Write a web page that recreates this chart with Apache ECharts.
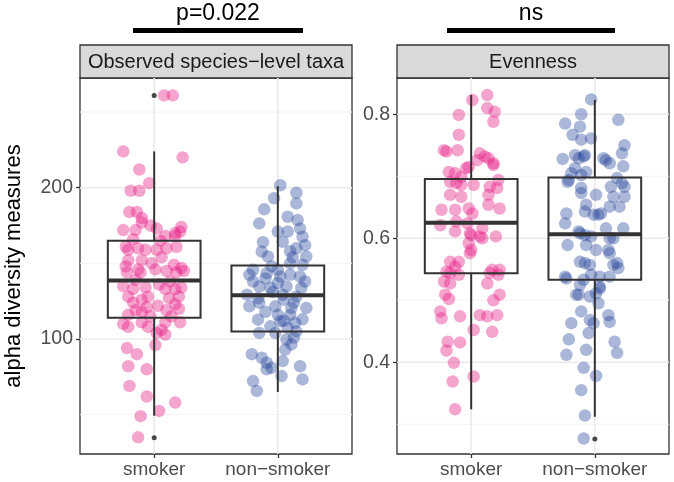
<!DOCTYPE html>
<html><head><meta charset="utf-8">
<script src="https://cdn.jsdelivr.net/npm/echarts@6/dist/echarts.min.js"></script>
<style>html,body{margin:0;padding:0;background:#fff}#c{width:674px;height:482px}</style>
</head><body><div id="c"></div>
<script>
// ---------------- data ----------------
const groups = ['smoker', 'non\u2212smoker'];
const panelTitles = ['Observed species\u2212level taxa', 'Evenness'];
const sigLabels = ['p=0.022', 'ns'];
const yTitle = 'alpha diversity measures';

const obsTicks = [100, 200];
const obsMinor = [50, 150, 250];
const evenTicks = [0.4, 0.6, 0.8];
const evenMinor = [0.3, 0.5, 0.7];

// box stats: [lower whisker, Q1, median, Q3, upper whisker]
const obsBoxSmoker = [49.3, 114, 138.7, 165, 224];
const obsBoxNon = [65, 105, 129, 148.6, 201];
const evenBoxSmoker = [0.324, 0.5435, 0.625, 0.6956, 0.831];
const evenBoxNon = [0.312, 0.533, 0.6065, 0.698, 0.823];

// outliers: [group position, value]
const obsOutliers = [[1, 261], [1, 34.7]];
const evenOutliers = [[2, 0.276]];

// jittered points: [offset from group centre, value]
const obsSmoker = [
[0.08,261],[0.15,261],[-0.25,224],[0.23,220],[-0.12,212],[-0.04,203],[-0.19,198],[-0.12,198],[-0.2,184],[-0.14,184],
[-0.1,180],[-0.1,177],[-0.03,175],[-0.25,172],[-0.15,172],[0.02,173],[0.22,174],[0.21,171],[0.17,168],[0.09,168],[0.17,170],
[-0.23,161],[-0.21,159],[-0.13,160],[-0.07,159],[0.02,159],[0.1,160],[0.18,161],
[-0.21,152],[-0.1,152],[0.06,154],[0.16,149],[0.22,147],[-0.23,148],[-0.13,146],[0.01,146],[0.1,145],
[-0.22,144],[-0.11,144],[0.18,144],[0.24,145],
[-0.25,135],[-0.17,133],[-0.07,134],[-0.05,128],[0.09,133],[0.17,133],[0.22,134],[0.2,128],[-0.21,128],[-0.1,126],
[0.03,122],[0.1,119],[-0.15,119],[0.17,123],[0.14,115],[-0.21,116],[-0.03,115],[-0.1,118],
[-0.25,110],[-0.1,111],[-0.05,108],[0.06,106],[0.09,111],[0.21,111],[0.02,104],[0.09,103],[-0.21,108],
[-0.22,94],[-0.14,90],[0.01,96],[-0.21,82],[-0.06,80],[-0.2,69],[-0.06,62],[0.17,58],[0.04,52.5],[-0.11,49],[-0.13,35],
[-0.17,166],[0.05,165],[-0.02,150],[0.13,138],[-0.15,139],[0.04,136],[-0.06,121],[0.2,120],[0.12,127],[-0.17,124]
];
const obsNon = [
[0.02,201.6],[0.15,196.6],[-0.03,193],[0.15,189.6],[-0.11,185.7],[0.08,180.8],[0.16,178.6],[-0.15,176.4],[0,171],[0.08,171],
[0.18,173],[0.2,167.6],[0.04,164.3],[0.22,162],[0.15,160],[-0.13,157.8],[-0.08,154.5],[0.23,154.5],[0.2,149],[0.1,150],
[-0.2,145.7],[0,145.7],[-0.23,142.4],[-0.09,143.5],[0.02,141.3],[0.1,142.4],[0.18,141.3],[0,137],[-0.15,134.7],[-0.06,133.7],
[0.07,134.7],[0.19,133.7],[-0.25,129.3],[-0.16,127],[0.04,129.3],[0.15,128],[-0.23,121.6],[-0.15,124],[-0.02,121.6],[0.11,120.5],
[0.23,120.5],[0,116],[0.1,116],[-0.16,112.8],[0.02,111.7],[0.14,110.7],[-0.06,108.4],[0.08,107.4],[0.15,105],[-0.15,104],
[0.07,99.7],[0.11,96.4],[0.06,93],[-0.21,90],[-0.13,87.6],[-0.09,84.3],[-0.05,81],[0.04,85.4],[0.18,82],[0.03,75.5],
[0.2,73.3],[-0.2,72.2],[-0.17,65.7],[-0.09,80],
[-0.2,138],[0.22,138],[-0.1,118],[0.2,113],[-0.05,148],[0.12,154],[0.05,126],[-0.02,104],
[-0.12,164],[0.1,158],[-0.04,131],[0.13,124],[-0.1,140],[0.05,112],[0.13,101]
];
const evenSmoker = [
[0.13,0.831],[0.01,0.823],[0.13,0.810],[0.19,0.804],[-0.1,0.799],[0.18,0.788],[-0.1,0.767],[-0.22,0.742],[-0.2,0.740],[-0.11,0.742],
[0.07,0.737],[0.11,0.732],[0.14,0.729],[0.05,0.726],[0.18,0.718],[-0.04,0.713],[-0.18,0.707],[-0.13,0.705],[-0.08,0.699],[0.22,0.694],
[-0.17,0.691],[-0.12,0.689],[-0.08,0.686],[0.02,0.686],[0.15,0.683],[0.21,0.681],[-0.17,0.670],[-0.08,0.667],[0.14,0.670],
[-0.24,0.646],[-0.13,0.646],[-0.02,0.648],[0.01,0.640],[0.14,0.654],[0.23,0.648],[-0.25,0.621],[-0.12,0.627],[-0.03,0.624],
[0.09,0.616],[-0.13,0.611],[-0.01,0.608],[0.2,0.603],[-0.02,0.592],[0.07,0.603],[-0.01,0.576],[-0.17,0.562],[-0.1,0.562],
[-0.13,0.554],[-0.2,0.546],[0.17,0.549],[0.23,0.549],[-0.17,0.544],[-0.1,0.541],[0.15,0.544],[0.22,0.541],[-0.22,0.530],
[-0.17,0.527],[0.13,0.527],[-0.21,0.509],[-0.18,0.502],[0.23,0.509],[0.18,0.500],[-0.25,0.482],[-0.24,0.471],[-0.09,0.474],
[0.07,0.476],[0.13,0.474],[0.21,0.476],[0.02,0.452],[0.17,0.449],[-0.19,0.433],[-0.09,0.432],[-0.2,0.419],[-0.14,0.399],
[-0.15,0.369],[0.02,0.377],[-0.13,0.324],
[0.18,0.721],[-0.02,0.715],[0,0.605],[0.09,0.600],[0,0.581]
];
const evenNon = [
[-0.03,0.824],[-0.11,0.800],[0.19,0.791],[-0.24,0.785],[-0.12,0.780],[-0.18,0.767],[-0.11,0.759],[-0.03,0.761],[0.24,0.750],[0.22,0.737],
[-0.08,0.734],[-0.13,0.729],[-0.26,0.728],[0.07,0.729],[0.09,0.726],[0.12,0.721],[0.23,0.716],[-0.16,0.713],[-0.19,0.705],[-0.11,0.702],
[-0.07,0.707],[-0.21,0.694],[0.18,0.697],[0.22,0.689],[0.24,0.683],[0.13,0.683],[-0.11,0.681],[-0.11,0.673],[0.01,0.670],[0.24,0.667],
[0.15,0.667],[-0.07,0.654],[-0.08,0.643],[0.12,0.651],[0.2,0.651],[0.03,0.638],[-0.01,0.638],[-0.23,0.640],[-0.24,0.624],[0.09,0.616],
[0.23,0.616],[-0.12,0.608],[-0.03,0.603],[0.12,0.600],[-0.22,0.589],[-0.07,0.589],[0.01,0.581],[0.11,0.581],[0.12,0.576],[-0.12,0.562],
[-0.08,0.560],[-0.04,0.557],[0.18,0.560],[-0.24,0.538],[-0.03,0.541],[0.04,0.538],[-0.12,0.525],[-0.09,0.533],[0.12,0.538],[0.04,0.519],
[-0.13,0.509],[0.03,0.495],[-0.11,0.482],[0.11,0.476],[0.12,0.465],[-0.04,0.468],[-0.01,0.463],[-0.19,0.463],[-0.05,0.447],[-0.21,0.437],
[0.16,0.433],[-0.07,0.420],[-0.23,0.412],[0.18,0.415],[-0.09,0.391],[0.01,0.378],[-0.11,0.355],[-0.08,0.314],[-0.09,0.277],
[-0.16,0.734],[-0.09,0.732],[-0.22,0.691],[0.05,0.640],[-0.13,0.611],[-0.08,0.605],[0.15,0.600],[0.15,0.557],[0.19,0.552],[-0.23,0.535],
[0.04,0.522],[0.01,0.511],[-0.04,0.506],[-0.15,0.509]
];

// ---------------- chart ----------------
const FONT = '"Liberation Sans", Arial, sans-serif';
const PINK = 'rgba(229,27,133,0.5)';
const BLUE = 'rgba(31,65,151,0.47)';
const LINE = '#333333';
const chart = echarts.init(document.getElementById('c'), null, {renderer: 'canvas'});

const panels = [
  {left: 80, yMin: 24, yMax: 272.5, ticks: obsTicks, minor: obsMinor, fmt: v => String(v),
   pts: [obsSmoker, obsNon], box: [obsBoxSmoker, obsBoxNon], out: obsOutliers},
  {left: 397, yMin: 0.252, yMax: 0.8585, ticks: evenTicks, minor: evenMinor, fmt: v => v.toFixed(1),
   pts: [evenSmoker, evenNon], box: [evenBoxSmoker, evenBoxNon], out: evenOutliers}
];
const TOP = 78, W = 272, H = 376;

function gridItem(params, api) {
  const kind = api.value(0), v = api.value(1), major = api.value(2);
  const cs = params.coordSys;
  let shape;
  if (kind === 0) {
    const y = api.coord([1, v])[1];
    shape = {x1: cs.x, y1: y, x2: cs.x + cs.width, y2: y};
  } else {
    const x = api.coord([v, 0.5])[0];
    shape = {x1: x, y1: cs.y, x2: x, y2: cs.y + cs.height};
  }
  return {type: 'line', shape, style: {stroke: major ? '#EBEBEB' : '#F2F2F2', lineWidth: major ? 1.6 : 1}, silent: true};
}
function boxItem(params, api) {
  const x = api.value(0);
  const pLo = api.coord([x, api.value(1)]), pQ1 = api.coord([x, api.value(2)]);
  const pMed = api.coord([x, api.value(3)]), pQ3 = api.coord([x, api.value(4)]);
  const pHi = api.coord([x, api.value(5)]);
  const w = api.size([0.75, 0])[0];
  const cx = pMed[0], l = cx - w / 2;
  const st = {stroke: LINE, lineWidth: 2, fill: null};
  return {type: 'group', silent: true, children: [
    {type: 'line', shape: {x1: cx, y1: pHi[1], x2: cx, y2: pQ3[1]}, style: st},
    {type: 'line', shape: {x1: cx, y1: pQ1[1], x2: cx, y2: pLo[1]}, style: st},
    {type: 'rect', shape: {x: l, y: pQ3[1], width: w, height: pQ1[1] - pQ3[1]}, style: st},
    {type: 'line', shape: {x1: l, y1: pMed[1], x2: l + w, y2: pMed[1]}, style: {stroke: LINE, lineWidth: 4}}
  ]};
}

const grids = [], xAxes = [], yAxes = [], series = [], graphics = [];
panels.forEach((p, i) => {
  grids.push({left: p.left, top: TOP, width: W, height: H, show: true, borderColor: LINE, borderWidth: 1.3, backgroundColor: 'transparent'});
  xAxes.push({type: 'value', gridIndex: i, min: 0.4, max: 2.6, splitLine: {show: false}, axisLine: {show: false},
    axisTick: {show: true, length: 4, lineStyle: {color: LINE, width: 1.3}, customValues: [1, 2]},
    axisLabel: {customValues: [1, 2], formatter: v => groups[Math.round(v) - 1], color: '#4D4D4D', fontSize: 19, fontFamily: FONT, margin: 6}});
  yAxes.push({type: 'value', gridIndex: i, min: p.yMin, max: p.yMax, splitLine: {show: false}, axisLine: {show: false},
    axisTick: {show: true, length: 4, lineStyle: {color: LINE, width: 1.3}, customValues: p.ticks},
    axisLabel: {customValues: p.ticks, formatter: p.fmt, color: '#4D4D4D', fontSize: 19.5, fontFamily: FONT, margin: 7}});
  const gridData = [];
  p.ticks.forEach(v => gridData.push([0, v, 1]));
  p.minor.forEach(v => gridData.push([0, v, 0]));
  [1, 2].forEach(v => gridData.push([1, v, 1]));
  series.push({type: 'custom', xAxisIndex: i, yAxisIndex: i, z: 1, renderItem: gridItem, data: gridData, silent: true});
  [PINK, BLUE].forEach((col, g) => {
    series.push({type: 'scatter', xAxisIndex: i, yAxisIndex: i, z: 2, symbolSize: 12.5,
      itemStyle: {color: col}, data: p.pts[g].map(d => [g + 1 + d[0], d[1]])});
  });
  series.push({type: 'custom', xAxisIndex: i, yAxisIndex: i, z: 3, renderItem: boxItem,
    data: p.box.map((b, g) => [g + 1].concat(b))});
  series.push({type: 'scatter', xAxisIndex: i, yAxisIndex: i, z: 4, symbolSize: 5,
    itemStyle: {color: '#1A1A1A'}, data: p.out});
  // strip
  graphics.push({type: 'rect', shape: {x: p.left, y: 45, width: W, height: 33},
    style: {fill: '#D9D9D9', stroke: LINE, lineWidth: 1.3}});
  graphics.push({type: 'text', x: p.left + W / 2, y: 62,
    style: {text: panelTitles[i], fill: '#1A1A1A', fontSize: 20, fontFamily: FONT, align: 'center', verticalAlign: 'middle'}});
});
// significance annotations
const sigCentres = [218, 531];
const sigHalf = [85, 84];
sigCentres.forEach((c, i) => {
  graphics.push({type: 'rect', shape: {x: c - sigHalf[i], y: 28, width: sigHalf[i] * 2, height: 5}, style: {fill: '#000'}});
  graphics.push({type: 'text', x: c, y: 14, style: {text: sigLabels[i], fill: '#000', fontSize: 23, fontFamily: FONT, align: 'center', verticalAlign: 'middle'}});
});
graphics.push({type: 'text', x: 14, y: 266, rotation: Math.PI / 2,
  style: {text: yTitle, fill: '#000', fontSize: 22, fontFamily: FONT, align: 'center', verticalAlign: 'middle'}});

chart.setOption({
  animation: false,
  backgroundColor: '#fff',
  grid: grids, xAxis: xAxes, yAxis: yAxes, series: series, graphic: graphics
});
</script></body></html>
